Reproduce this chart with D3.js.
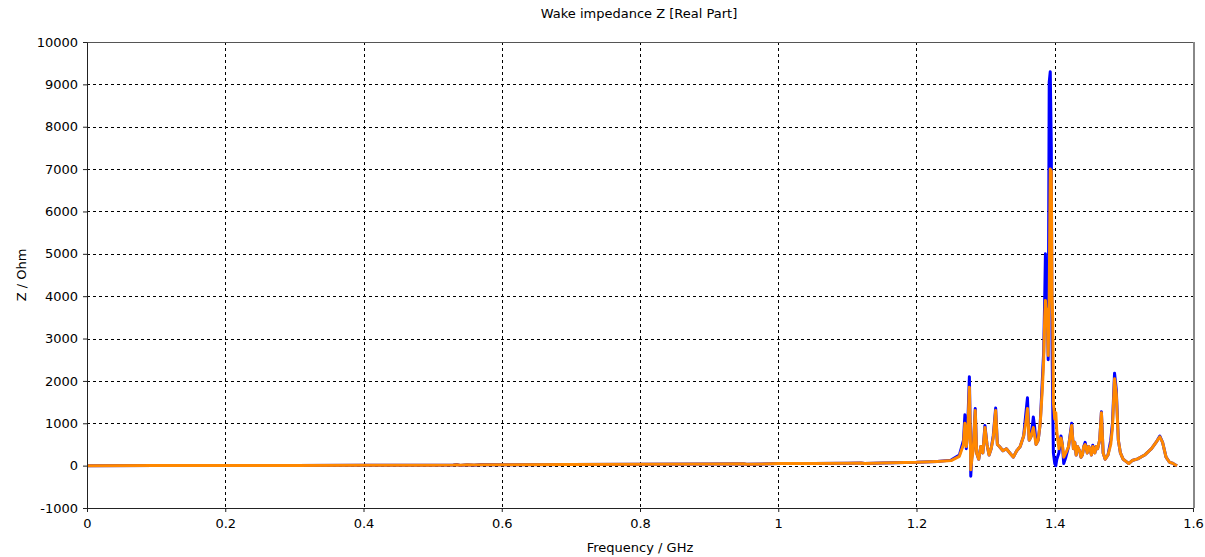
<!DOCTYPE html>
<html>
<head>
<meta charset="utf-8">
<script src="https://cdn.jsdelivr.net/npm/d3@7"></script>
<style>
  html, body { margin: 0; padding: 0; background: #fff; }
  svg { display: block; }
  text { font-family: "DejaVu Sans", Verdana, sans-serif; fill: #000; }
</style>
</head>
<body>
<svg id="chart" width="1205" height="557"></svg>
<script>
// Frequency samples (GHz)
const freq = [
  0.000, 0.100, 0.200, 0.300, 0.400, 0.500, 0.530, 0.535, 0.540, 0.550,
  0.560, 0.570, 0.600, 0.700, 0.800, 0.900, 0.950, 0.955, 1.000, 1.050,
  1.100, 1.120, 1.125, 1.150, 1.200, 1.230, 1.250, 1.262, 1.268, 1.270,
  1.272, 1.274, 1.2765, 1.278, 1.2785, 1.280, 1.282, 1.285, 1.287, 1.290,
  1.293, 1.296, 1.299, 1.302, 1.305, 1.308, 1.311, 1.3145, 1.317, 1.320,
  1.325, 1.330, 1.335, 1.340, 1.345, 1.350, 1.355, 1.358, 1.3605, 1.363,
  1.366, 1.369, 1.371, 1.373, 1.376, 1.379, 1.382, 1.384, 1.3855, 1.3865,
  1.388, 1.389, 1.3905, 1.392, 1.3935, 1.395, 1.396, 1.397, 1.398, 1.400,
  1.4015, 1.403, 1.406, 1.409, 1.411, 1.413, 1.416, 1.420, 1.4245, 1.427,
  1.429, 1.431, 1.433, 1.436, 1.438, 1.440, 1.442, 1.444, 1.447, 1.449,
  1.451, 1.453, 1.455, 1.458, 1.460, 1.462, 1.465, 1.4675, 1.470, 1.473,
  1.477, 1.481, 1.4835, 1.4865, 1.489, 1.492, 1.495, 1.499, 1.503, 1.507,
  1.512, 1.520, 1.530, 1.540, 1.547, 1.552, 1.556, 1.561, 1.566, 1.570,
  1.574, 1.577
];

// Real part of wake impedance, first run (Ohm)
const zBlue = [
  0, 2, 3, 5, 8, 12, 15, 25, 5, 20,
  10, 25, 22, 28, 32, 38, 45, 30, 48, 52,
  58, 65, 50, 65, 80, 100, 130, 250, 600, 1200,
  400, 900, 2100, 600, -250, 200, 400, 1350, 300, 150,
  450, 300, 950, 500, 250, 400, 700, 1360, 500, 450,
  350, 400, 300, 200, 350, 450, 700, 1200, 1600, 600,
  700, 1150, 900, 500, 600, 1000, 2000, 2700, 4000, 5000,
  3600, 4000, 2500, 9050, 9300, 7500, 3000, 1500, 300, 50,
  0, 150, 300, 700, 500, 50, 200, 450, 1000, 400,
  550, 250, 450, 350, 200, 250, 450, 550, 300, 450,
  400, 250, 480, 300, 450, 400, 600, 1270, 300, 150,
  250, 600, 1000, 2180, 1800, 600, 300, 150, 100, 50,
  120, 160, 250, 400, 560, 700, 550, 200, 80, 60,
  20, 0
];

// Real part of wake impedance, second run (Ohm)
const zOrange = [
  0, 2, 3, 5, 8, 12, 16, 22, 8, 20,
  14, 22, 22, 28, 32, 38, 42, 32, 48, 52,
  58, 62, 52, 65, 80, 100, 120, 220, 500, 1000,
  450, 700, 1850, 600, -100, 150, 350, 1300, 300, 150,
  450, 300, 900, 500, 250, 400, 650, 1300, 500, 450,
  350, 400, 300, 200, 350, 450, 700, 1000, 1350, 600,
  700, 900, 700, 500, 600, 1000, 1800, 2500, 3500, 3900,
  3300, 3700, 2600, 4000, 7000, 6950, 4000, 3500, 1500, 1100,
  1250, 800, 400, 650, 500, 200, 300, 450, 950, 400,
  550, 250, 450, 350, 200, 250, 450, 500, 300, 450,
  400, 250, 450, 300, 450, 400, 600, 1250, 300, 150,
  250, 500, 900, 2050, 1700, 600, 300, 150, 100, 50,
  120, 160, 250, 400, 560, 680, 550, 200, 80, 60,
  20, 0
];

const xTicks = [0, 0.2, 0.4, 0.6, 0.8, 1, 1.2, 1.4, 1.6];
const yTicks = [-1000, 0, 1000, 2000, 3000, 4000, 5000, 6000, 7000, 8000, 9000, 10000];

const FONT = "\"DejaVu Sans\", Verdana, sans-serif";
const svg = d3.select("#chart");
const plot = { left: 87, right: 1193, top: 42, bottom: 508 };

const x = d3.scaleLinear().domain([0, 1.6]).range([plot.left, plot.right]);
const y = d3.scaleLinear().domain([-1000, 10000]).range([plot.bottom, plot.top]);

// dashed grid
const grid = svg.append("g").attr("stroke", "#000").attr("stroke-width", 1)
  .attr("stroke-dasharray", "3,3").attr("shape-rendering", "crispEdges");
grid.selectAll("line.v").data(xTicks.slice(1, -1)).join("line")
  .attr("x1", d => Math.round(x(d)) + 0.5).attr("x2", d => Math.round(x(d)) + 0.5)
  .attr("y1", plot.top).attr("y2", plot.bottom);
grid.selectAll("line.h").data(yTicks.slice(1, -1)).join("line")
  .attr("x1", plot.left).attr("x2", plot.right)
  .attr("y1", d => Math.round(y(d)) + 0.5).attr("y2", d => Math.round(y(d)) + 0.5);

// frame: top and right borders
svg.append("line").attr("x1", plot.left).attr("x2", plot.right + 1)
  .attr("y1", plot.top + 0.5).attr("y2", plot.top + 0.5)
  .attr("stroke", "#555").attr("shape-rendering", "crispEdges");
svg.append("line").attr("x1", plot.right + 1).attr("x2", plot.right + 1)
  .attr("y1", plot.top).attr("y2", plot.bottom)
  .attr("stroke", "#888").attr("stroke-width", 2).attr("shape-rendering", "crispEdges");

// series
const line = (vals) => d3.line().x((d, i) => x(freq[i])).y(d => y(d))(vals);
svg.append("path").attr("d", line(zBlue)).attr("fill", "none")
  .attr("stroke", "#0000ff").attr("stroke-width", 3).attr("stroke-linejoin", "round");
svg.append("path").attr("d", line(zOrange)).attr("fill", "none")
  .attr("stroke", "#ff8800").attr("stroke-width", 3).attr("stroke-linejoin", "round");

// axes
const fmtX = d => d === 0 ? "0" : (d === 1 ? "1" : d3.format(".1f")(d));
const xAxis = svg.append("g").attr("transform", `translate(0,${plot.bottom})`)
  .call(d3.axisBottom(x).tickValues(xTicks).tickFormat(fmtX).tickSize(4).tickSizeOuter(0));
const yAxis = svg.append("g").attr("transform", `translate(${plot.left},0)`)
  .call(d3.axisLeft(y).tickValues(yTicks).tickFormat(d => String(d)).tickSize(4).tickSizeOuter(0));
[xAxis, yAxis].forEach(g => {
  g.selectAll("path.domain").attr("stroke", "#222");
  g.selectAll(".tick line").attr("stroke", "#222");
  g.selectAll("text").attr("font-size", 13).attr("font-family", FONT).attr("fill", "#000");
});
xAxis.selectAll("text").attr("dy", "1.0em");
yAxis.selectAll("text").attr("dx", "-2");

// titles
svg.append("text").attr("x", 639).attr("y", 18).attr("text-anchor", "middle")
  .attr("font-size", 13).text("Wake impedance Z [Real Part]");
svg.append("text").attr("x", plot.left + (plot.right - plot.left) / 2).attr("y", 552)
  .attr("text-anchor", "middle").attr("font-size", 13).text("Frequency / GHz");
svg.append("text").attr("transform", `translate(26,275) rotate(-90)`)
  .attr("text-anchor", "middle").attr("font-size", 13).text("Z / Ohm");
</script>
</body>
</html>
